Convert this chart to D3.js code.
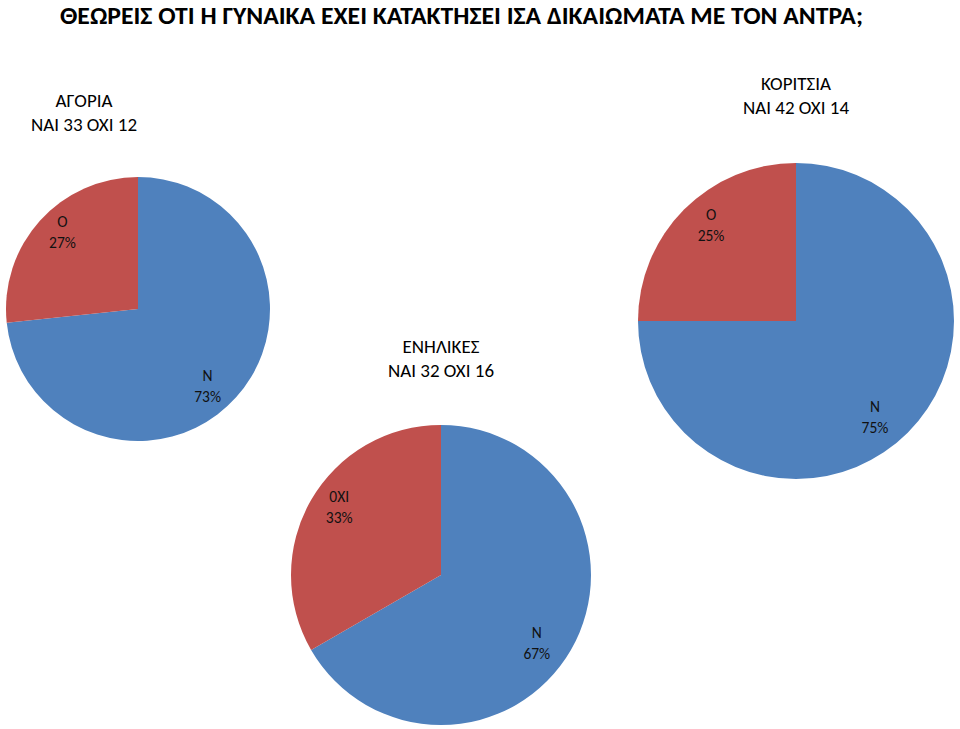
<!DOCTYPE html>
<html><head><meta charset="utf-8">
<script src="https://cdn.jsdelivr.net/npm/d3@7"></script>
<style>body{margin:0;background:#fff}svg{display:block}text{font-family:Carlito,Calibri,"Open Sans",sans-serif}</style>
</head><body>
<script>
const title = "ΘΕΩΡΕΙΣ ΟΤΙ Η ΓΥΝΑΙΚΑ ΕΧΕΙ ΚΑΤΑΚΤΗΣΕΙ ΙΣΑ ΔΙΚΑΙΩΜΑΤΑ ΜΕ ΤΟΝ ΑΝΤΡΑ;";
const groups = ["ΑΓΟΡΙΑ", "ΚΟΡΙΤΣΙΑ", "ΕΝΗΛΙΚΕΣ"];
const yesValues = [33, 42, 32];
const noValues = [12, 14, 16];
const yesLabels = ["Ν", "Ν", "Ν"];
const noLabels = ["Ο", "Ο", "0XI"];
const colors = ["#4F81BD", "#C0504D"];

// layout (positions only)
const layout = [
  {cx:138, cy:309, r:132, tx:84, ty:107},
  {cx:796, cy:321, r:158, tx:796, ty:90},
  {cx:441, cy:575, r:150, tx:441, ty:353}
];

const W = 960, H = 729;
const svg = d3.select("body").append("svg").attr("width", W).attr("height", H);

svg.append("text").attr("x", 60).attr("y", 24)
  .attr("font-size", 24).attr("font-weight", "bold").attr("fill", "#000")
  .attr("textLength", 803).attr("lengthAdjust", "spacingAndGlyphs")
  .text(title);

const pie = d3.pie().sort(null).value(d => d.v);

groups.forEach((g, i) => {
  const L = layout[i];
  const data = [{v: yesValues[i], lab: yesLabels[i]}, {v: noValues[i], lab: noLabels[i]}];
  const total = yesValues[i] + noValues[i];
  const arcs = pie(data);
  const arc = d3.arc().innerRadius(0).outerRadius(L.r);
  const lblArc = d3.arc().innerRadius(L.r * 0.8).outerRadius(L.r * 0.8);
  const gg = svg.append("g").attr("transform", `translate(${L.cx},${L.cy})`);
  gg.selectAll("path").data(arcs).join("path")
    .attr("d", arc).attr("fill", (d, j) => colors[j]);
  arcs.forEach(a => {
    const shift = 0.08;
    const c = lblArc.centroid({startAngle: a.startAngle + shift, endAngle: a.endAngle + shift});
    const t = gg.append("text").attr("text-anchor", "middle").attr("font-size", 15.5).attr("fill", "#111")
      .attr("transform", `translate(${c[0] - 3},${c[1]})`);
    t.append("tspan").attr("x", 0).attr("y", -5).text(a.data.lab);
    t.append("tspan").attr("x", 0).attr("y", 16).text(Math.round(a.data.v / total * 100) + "%");
  });
  const tt = svg.append("text").attr("text-anchor", "middle").attr("font-size", 19).attr("fill", "#000");
  tt.append("tspan").attr("x", L.tx).attr("y", L.ty).text(g);
  tt.append("tspan").attr("x", L.tx).attr("y", L.ty + 24).text(`ΝΑΙ ${yesValues[i]} ΌΧΙ ${noValues[i]}`);
});
</script>
</body></html>
